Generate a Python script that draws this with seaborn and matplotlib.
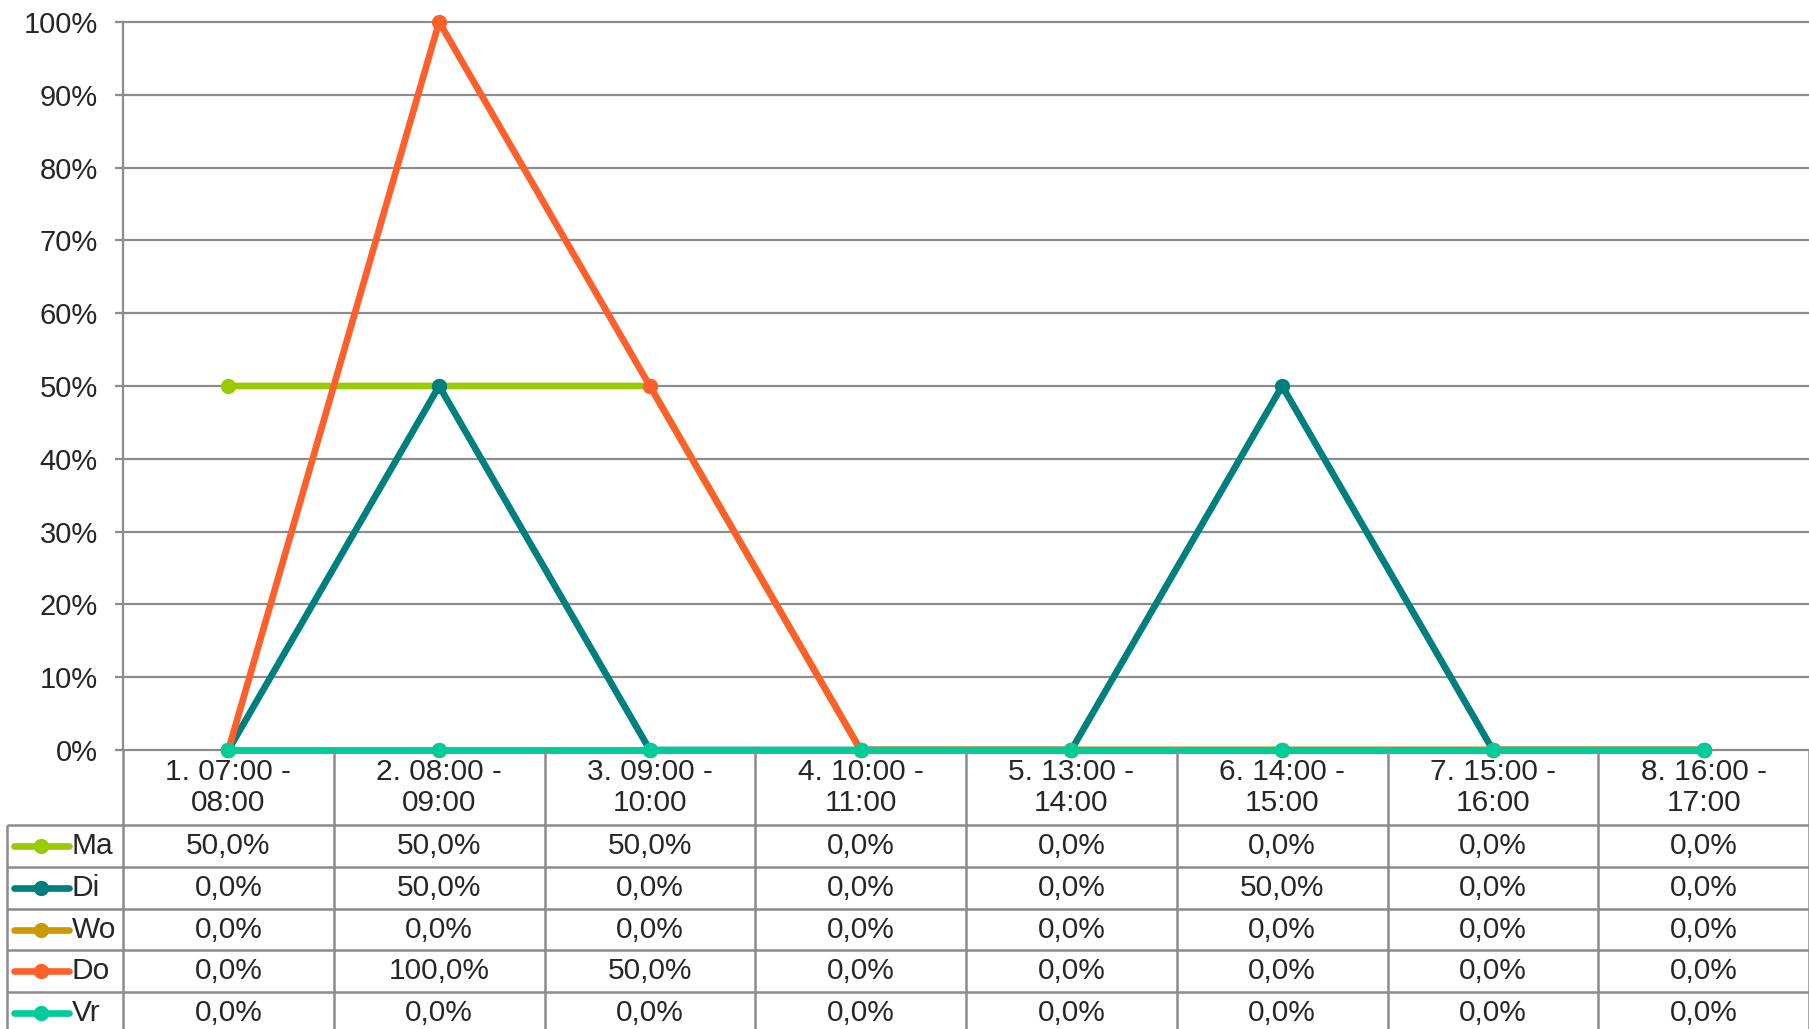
import numpy as np
import pandas as pd
import seaborn as sns
import matplotlib.pyplot as plt
from matplotlib.ticker import FuncFormatter

# Data
slots = ["1. 07:00 -\n08:00", "2. 08:00 -\n09:00", "3. 09:00 -\n10:00", "4. 10:00 -\n11:00",
         "5. 13:00 -\n14:00", "6. 14:00 -\n15:00", "7. 15:00 -\n16:00", "8. 16:00 -\n17:00"]
days = ["Ma", "Di", "Wo", "Do", "Vr"]
ma = [0.5, 0.5, 0.5, 0.0, 0.0, 0.0, 0.0, 0.0]
di = [0.0, 0.5, 0.0, 0.0, 0.0, 0.5, 0.0, 0.0]
wo = [0.0, 0.0, 0.0, 0.0, 0.0, 0.0, 0.0, 0.0]
do = [0.0, 1.0, 0.5, 0.0, 0.0, 0.0, 0.0, 0.0]
vr = [0.0, 0.0, 0.0, 0.0, 0.0, 0.0, 0.0, 0.0]
colors = ["#99cc00", "#007f7f", "#cc9900", "#ff5f2b", "#00cc99"]

series = dict(zip(days, [ma, di, wo, do, vr]))
df = pd.DataFrame([
    {"pos": i, "slot": s, "day": d, "value": series[d][i]}
    for d in days for i, s in enumerate(slots)
])

sns.set_style("white")
plt.rcParams["font.family"] = ["Liberation Sans", "DejaVu Sans"]

W, H = 1809, 1029
grid_c = "#8c8c8c"
lw, ms = 4.8, 11
fig = plt.figure(figsize=(W / 100, H / 100), dpi=100)

# plot area in pixels: left 123, top 22, bottom 750
ax = fig.add_axes([123 / W, (H - 750) / H, (W - 123) / W, 728 / H])
sns.lineplot(data=df, x="pos", y="value", hue="day", hue_order=days, palette=colors,
             marker="o", markersize=ms, markeredgewidth=0, linewidth=lw,
             errorbar=None, sort=False, legend=False, ax=ax)
for ln in ax.lines:
    ln.set_clip_on(False)
    ln.set_solid_capstyle("round")

n = len(slots)
ax.set_xlim(-0.5, n - 0.5)
ax.set_ylim(0, 1)
ax.set_yticks(np.arange(0, 1.01, 0.1))
ax.yaxis.set_major_formatter(FuncFormatter(lambda v, p: f"{v * 100:.0f}%"))
ax.yaxis.grid(True, color=grid_c, linewidth=1.6)
ax.set_axisbelow(True)
for gl in ax.get_ygridlines():
    gl.set_clip_on(False)
ax.tick_params(axis="y", length=6, width=1.6, color=grid_c, pad=12, labelsize=21, left=True)
ax.tick_params(axis="x", bottom=False, labelbottom=False)
ax.set_xlabel("")
ax.set_ylabel("")
for s in ["top", "right", "bottom"]:
    ax.spines[s].set_visible(False)
ax.spines["left"].set_color(grid_c)
ax.spines["left"].set_linewidth(1.6)

# data table below the plot
hdr = 1.8
tax = fig.add_axes([123 / W, (H - 1034) / H, (W - 123) / W, 284 / H])
tax.set_xlim(-0.5, n - 0.5)
tax.set_ylim(hdr + len(days), 0)
tax.axis("off")

unit = (W - 123) / n


def px2x(px):
    return -0.5 - (123 - px) / unit


x_left = px2x(7)
kw = dict(color=grid_c, linewidth=1.8, clip_on=False)
tax.vlines(np.arange(n + 1) - 0.5, 0, hdr + len(days), **kw)
tax.vlines([x_left], hdr, hdr + len(days), **kw)
tax.hlines(hdr + np.arange(len(days)), x_left, n - 0.5, **kw)

for i, s in enumerate(slots):
    tax.text(i, hdr / 2, s, ha="center", va="center", fontsize=21.5, linespacing=1.1)

for r, (d, c) in enumerate(zip(days, colors)):
    y = hdr + r + 0.5
    for i, v in enumerate(series[d]):
        txt = f"{v * 100:.1f}%".replace(".", ",")
        tax.text(i, y, txt, ha="center", va="center", fontsize=21.5)
    tax.plot([px2x(14), px2x(69)], [y, y], color=c, linewidth=lw, clip_on=False,
             solid_capstyle="round")
    tax.plot([px2x(41)], [y], marker="o", markersize=ms, color=c, markeredgewidth=0,
             clip_on=False)
    tax.text(px2x(72), y, d, ha="left", va="center", fontsize=21.5)

fig.savefig("out.png", dpi=100)
